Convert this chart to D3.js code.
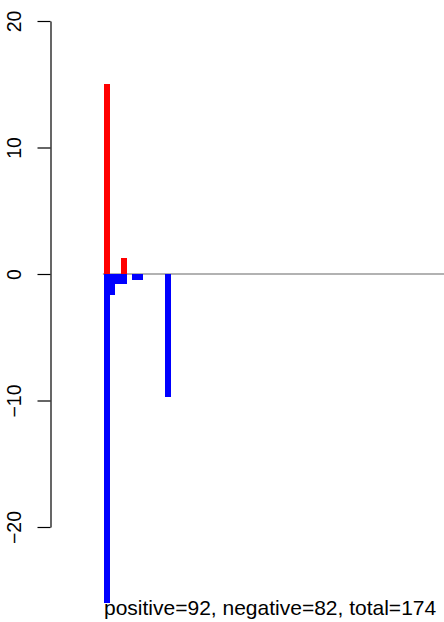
<!DOCTYPE html>
<html><head><meta charset="utf-8">
<script src="https://cdn.jsdelivr.net/npm/d3@7"></script>
<style>body{margin:0;background:#fff}svg{display:block}</style>
</head><body>
<svg id="c" width="444" height="622"></svg>
<script>
// bins (index along x) and values
const posBins = [0, 3];
const posValues = [15, 1.25];
const negBins = [0, 1, 2, 3, 5, 6, 11];
const negValues = [-26, -1.66, -0.8, -0.8, -0.47, -0.47, -9.7];
const yTicks = [-20, -10, 0, 10, 20];
const caption = "positive=92, negative=82, total=174";

const svg = d3.select("#c");
const x = d3.scaleLinear().domain([0, 61.3]).range([104, 444.2]);
const y = d3.scaleLinear().domain([-20, 20]).range([527, 21]);
const bw = x(1) - x(0);

// zero line
svg.append("line")
  .attr("x1", x(-0.2)).attr("x2", x(61.3))
  .attr("y1", y(0)).attr("y2", y(0))
  .attr("stroke", "#999").attr("stroke-width", 1.6);

svg.append("g").selectAll("rect").data(posBins.map((b, i) => ({b, v: posValues[i]})))
  .join("rect")
  .attr("x", d => x(d.b)).attr("width", bw + 0.4)
  .attr("y", d => y(d.v)).attr("height", d => y(0) - y(d.v))
  .attr("fill", "#ff0000").attr("shape-rendering", "crispEdges");

svg.append("g").selectAll("rect").data(negBins.map((b, i) => ({b, v: negValues[i]})))
  .join("rect")
  .attr("x", d => x(d.b)).attr("width", bw + 0.4)
  .attr("y", y(0)).attr("height", d => y(d.v) - y(0))
  .attr("fill", "#0000ff").attr("shape-rendering", "crispEdges");

// axis
const ax = svg.append("g").attr("transform", "translate(50.5,0)")
  .call(d3.axisLeft(y).tickValues(yTicks).tickSize(13).tickSizeOuter(0)
    .tickFormat(d => d < 0 ? "\u2212" + Math.abs(d) : String(d)));
ax.select(".domain").attr("stroke", "#000").attr("stroke-width", 1.2);
ax.selectAll(".tick line").attr("stroke", "#000").attr("stroke-width", 1.2);
ax.selectAll(".tick text")
  .attr("x", null).attr("dy", null)
  .attr("transform", "translate(-30,0) rotate(-90)")
  .attr("text-anchor", "middle")
  .attr("fill", "#000")
  .style("font-family", "'Liberation Sans', Arial, Helvetica, sans-serif")
  .style("font-size", "19.5px");
ax.attr("font-family", null).attr("font-size", null);

svg.append("text")
  .attr("x", x(0)).attr("y", 615)
  .attr("fill", "#000")
  .style("font-family", "'Liberation Sans', Arial, Helvetica, sans-serif")
  .style("font-size", "21px")
  .text(caption);
</script>
</body></html>
